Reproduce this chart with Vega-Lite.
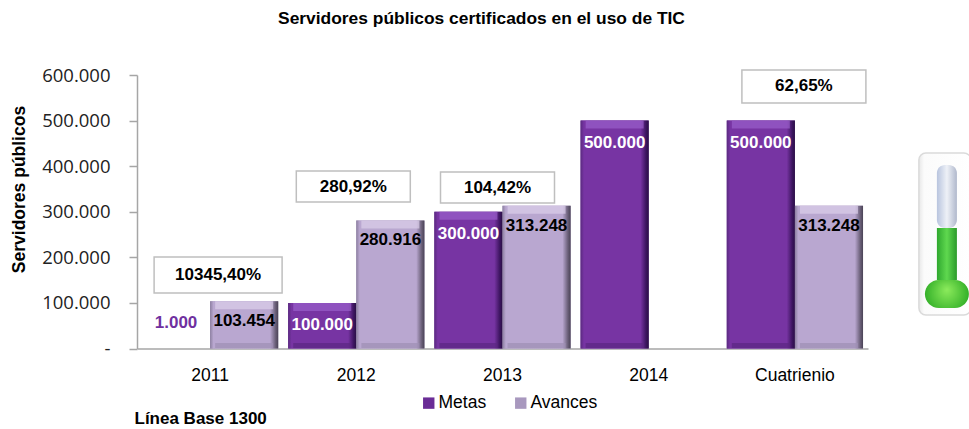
{"$schema":"https://vega.github.io/schema/vega-lite/v6.json","width":731,"height":273.5,"autosize":{"type":"none"},"padding":{"left":137,"top":75,"right":101,"bottom":80.5},"background":"white",
"title":{"text":"Servidores públicos certificados en el uso de TIC","font":"Liberation Sans","fontWeight":"bold","fontSize":17.4,"color":"#000","anchor":"middle","frame":"group","dx":-21,"offset":39},
"config":{"view":{"stroke":null}},
"datasets":{"bars":[
{"anio":"2011","serie":"Metas","valor":1000,"etiqueta":"1.000"},
{"anio":"2011","serie":"Avances","valor":103454,"etiqueta":"103.454"},
{"anio":"2012","serie":"Metas","valor":100000,"etiqueta":"100.000"},
{"anio":"2012","serie":"Avances","valor":280916,"etiqueta":"280.916"},
{"anio":"2013","serie":"Metas","valor":300000,"etiqueta":"300.000"},
{"anio":"2013","serie":"Avances","valor":313248,"etiqueta":"313.248"},
{"anio":"2014","serie":"Metas","valor":500000,"etiqueta":"500.000"},
{"anio":"Cuatrienio","serie":"Metas","valor":500000,"etiqueta":"500.000"},
{"anio":"Cuatrienio","serie":"Avances","valor":313248,"etiqueta":"313.248"}],
"boxes":[
{"anio":"2011","pct":"10345,40%","lo":121800,"hi":200700,"mid":161000},
{"anio":"2012","pct":"280,92%","lo":321400,"hi":389400,"mid":354000},
{"anio":"2013","pct":"104,42%","lo":319000,"hi":387000,"mid":352000},
{"anio":"Cuatrienio","pct":"62,65%","lo":538600,"hi":611000,"mid":576000}]},
"data":{"name":"bars"},
"encoding":{"x":{"field":"anio","type":"nominal","sort":["2011","2012","2013","2014","Cuatrienio"],"scale":{"domain":["2011","2012","2013","2014","Cuatrienio"],"paddingInner":0.068,"paddingOuter":0.034},
"axis":{"title":"Línea Base 1300","titleFont":"Liberation Sans","titleFontSize":17,"titleFontWeight":"bold","titleColor":"#000","titleX":-3,"titleY":70,"titleAlign":"left","titleBaseline":"middle","labelAngle":0,"labelFont":"Liberation Sans","labelFontSize":17.5,"labelColor":"#000","labelPadding":18,"tickSize":0,"domainColor":"#A6A6A6","domainWidth":1.5}},
"y":{"type":"quantitative","scale":{"domain":[0,600000],"nice":false}}},
"layer":[
{"mark":{"type":"bar","opacity":1},"encoding":{"y":{"field":"valor","type":"quantitative","axis":{"title":"Servidores públicos","titleFont":"Liberation Sans","titleFontSize":17.5,"titleFontWeight":"bold","titleColor":"#000","titleX":-109,"titleY":114,"values":[0,100000,200000,300000,400000,500000,600000],"labelExpr":"datum.value==0?'-\u00a0\u00a0\u00a0':replace(format(datum.value,','),',','.')","labelFont":"Open Sans","labelFontSize":18.5,"labelColor":"#222","labelPadding":19,"tickSize":8,"tickColor":"#A6A6A6","tickWidth":1.5,"domainColor":"#A6A6A6","domainWidth":1.5,"grid":false}},
"xOffset":{"field":"serie","type":"nominal","sort":["Metas","Avances"],"scale":{"domain":["Metas","Avances"]}},
"fillOpacity":{"condition":{"test":"datum.valor<=1000","value":0},"value":1},
"color":{"field":"serie","type":"nominal","scale":{"domain":["Metas","Avances"],"range":["#6A2C96","#A898BE"]},"legend":{"title":null,"orient":"none","legendX":283,"legendY":319,"direction":"horizontal","symbolType":"square","symbolSize":130,"symbolStrokeWidth":0,"symbolOpacity":1,"labelFont":"Liberation Sans","labelFontSize":17.5,"labelColor":"#000","labelOffset":1,"columnPadding":25}}}},
{"transform":[{"filter":"datum.serie=='Metas' && datum.valor>1000"}],"mark":{"type":"bar","fill":{"gradient":"linear","x1":0,"x2":1,"y1":0,"y2":0,"stops":[{"offset":0,"color":"#5A2A80"},{"offset":0.05,"color":"#7734A3"},{"offset":0.88,"color":"#7734A3"},{"offset":0.96,"color":"#3D1560"},{"offset":1,"color":"#2A1045"}]}},"encoding":{"y":{"field":"valor","type":"quantitative"},"xOffset":{"field":"serie","type":"nominal","sort":["Metas","Avances"]}}},
{"transform":[{"filter":"datum.serie=='Avances'"}],"mark":{"type":"bar","fill":{"gradient":"linear","x1":0,"x2":1,"y1":0,"y2":0,"stops":[{"offset":0,"color":"#8C7FA0"},{"offset":0.05,"color":"#B9A7D0"},{"offset":0.88,"color":"#B9A7D0"},{"offset":0.96,"color":"#6A5F78"},{"offset":1,"color":"#4A4356"}]}},"encoding":{"y":{"field":"valor","type":"quantitative"},"xOffset":{"field":"serie","type":"nominal","sort":["Metas","Avances"]}}},
{"transform":[{"filter":"datum.serie=='Metas' && datum.valor>1000"}],"mark":{"type":"tick","size":58,"thickness":8,"yOffset":4,"fill":"#9A5FCB","color":"#9A5FCB"},"encoding":{"y":{"field":"valor","type":"quantitative"},"xOffset":{"field":"serie","type":"nominal","sort":["Metas","Avances"]}}},
{"transform":[{"filter":"datum.serie=='Avances'"}],"mark":{"type":"tick","size":58,"thickness":8,"yOffset":4,"fill":"#DCCFEA","color":"#DCCFEA"},"encoding":{"y":{"field":"valor","type":"quantitative"},"xOffset":{"field":"serie","type":"nominal","sort":["Metas","Avances"]}}},
{"transform":[{"filter":"datum.serie=='Metas' && datum.valor>1000"}],"mark":{"type":"tick","size":58,"thickness":5,"yOffset":-3,"color":"#5B2782"},"encoding":{"y":{"datum":0},"xOffset":{"field":"serie","type":"nominal","sort":["Metas","Avances"]}}},
{"transform":[{"filter":"datum.serie=='Avances'"}],"mark":{"type":"tick","size":58,"thickness":5,"yOffset":-3,"color":"#9E8FB3"},"encoding":{"y":{"datum":0},"xOffset":{"field":"serie","type":"nominal","sort":["Metas","Avances"]}}},
{"transform":[{"filter":"datum.serie=='Metas' && datum.valor>1000"}],"mark":{"type":"text","font":"Liberation Sans","fontWeight":"bold","fontSize":17,"color":"white","yOffset":22},"encoding":{"y":{"field":"valor","type":"quantitative"},"text":{"field":"etiqueta"},"xOffset":{"field":"serie","type":"nominal","sort":["Metas","Avances"]}}},
{"transform":[{"filter":"datum.serie=='Metas' && datum.valor==1000"}],"mark":{"type":"text","font":"Liberation Sans","fontWeight":"bold","fontSize":17,"color":"#7030A0","yOffset":-25,"xOffset":-8},"encoding":{"y":{"field":"valor","type":"quantitative"},"text":{"field":"etiqueta"},"xOffset":{"field":"serie","type":"nominal","sort":["Metas","Avances"]}}},
{"transform":[{"filter":"datum.serie=='Avances'"}],"mark":{"type":"text","font":"Liberation Sans","fontWeight":"bold","fontSize":17,"color":"black","yOffset":20},"encoding":{"y":{"field":"valor","type":"quantitative"},"text":{"field":"etiqueta"},"xOffset":{"field":"serie","type":"nominal","sort":["Metas","Avances"]}}},
{"data":{"name":"boxes"},"transform":[{"filter":"datum.anio=='2011'"}],"mark":{"type":"bar","width":128,"xOffset":8,"fill":"white","stroke":"#BFBFBF","strokeWidth":1.5},"encoding":{"y":{"field":"lo","type":"quantitative"},"y2":{"field":"hi"}}},
{"data":{"name":"boxes"},"transform":[{"filter":"datum.anio=='2012'"}],"mark":{"type":"bar","width":114,"xOffset":-3,"fill":"white","stroke":"#BFBFBF","strokeWidth":1.5},"encoding":{"y":{"field":"lo","type":"quantitative"},"y2":{"field":"hi"}}},
{"data":{"name":"boxes"},"transform":[{"filter":"datum.anio=='2013'"}],"mark":{"type":"bar","width":114,"xOffset":-5,"fill":"white","stroke":"#BFBFBF","strokeWidth":1.5},"encoding":{"y":{"field":"lo","type":"quantitative"},"y2":{"field":"hi"}}},
{"data":{"name":"boxes"},"transform":[{"filter":"datum.anio=='Cuatrienio'"}],"mark":{"type":"bar","width":124,"xOffset":9,"fill":"white","stroke":"#BFBFBF","strokeWidth":1.5},"encoding":{"y":{"field":"lo","type":"quantitative"},"y2":{"field":"hi"}}},
{"data":{"name":"boxes"},"transform":[{"filter":"datum.anio=='2011'"}],"mark":{"type":"text","xOffset":8,"font":"Liberation Sans","fontWeight":"bold","fontSize":17,"color":"black"},"encoding":{"y":{"field":"mid","type":"quantitative"},"text":{"field":"pct"}}},
{"data":{"name":"boxes"},"transform":[{"filter":"datum.anio=='2012'"}],"mark":{"type":"text","xOffset":-3,"font":"Liberation Sans","fontWeight":"bold","fontSize":17,"color":"black"},"encoding":{"y":{"field":"mid","type":"quantitative"},"text":{"field":"pct"}}},
{"data":{"name":"boxes"},"transform":[{"filter":"datum.anio=='2013'"}],"mark":{"type":"text","xOffset":-5,"font":"Liberation Sans","fontWeight":"bold","fontSize":17,"color":"black"},"encoding":{"y":{"field":"mid","type":"quantitative"},"text":{"field":"pct"}}},
{"data":{"name":"boxes"},"transform":[{"filter":"datum.anio=='Cuatrienio'"}],"mark":{"type":"text","xOffset":9,"font":"Liberation Sans","fontWeight":"bold","fontSize":17,"color":"black"},"encoding":{"y":{"field":"mid","type":"quantitative"},"text":{"field":"pct"}}},
{"data":{"values":[{"anio":"Cuatrienio","a":73500,"b":428900,"c":402600,"d":264400,"e":150300,"f":88800}]},"mark":{"type":"bar","width":52,"xOffset":150,"cornerRadius":7,"fill":{"gradient":"linear","x1":0,"x2":1,"y1":0,"y2":0,"stops":[{"offset":0,"color":"#E8E8E8"},{"offset":0.1,"color":"#FBFBFB"},{"offset":1,"color":"#FFFFFF"}]},"stroke":"#DADADA","strokeWidth":1.5},"encoding":{"y":{"field":"a","type":"quantitative"},"y2":{"field":"b"}}},
{"data":{"values":[{"anio":"Cuatrienio","a":73500,"b":428900,"c":402600,"d":264400,"e":150300,"f":88800}]},"mark":{"type":"bar","width":20,"xOffset":152,"cornerRadius":8,"fill":{"gradient":"linear","x1":0,"x2":1,"y1":0,"y2":0,"stops":[{"offset":0,"color":"#B8C4DE"},{"offset":0.5,"color":"#EEF1F7"},{"offset":1,"color":"#B0B8CC"}]}},"encoding":{"y":{"field":"d","type":"quantitative"},"y2":{"field":"c"}}},
{"data":{"values":[{"anio":"Cuatrienio","a":73500,"b":428900,"c":402600,"d":264400,"e":150300,"f":88800}]},"mark":{"type":"bar","width":20,"xOffset":152,"fill":{"gradient":"linear","x1":0,"x2":1,"y1":0,"y2":0,"stops":[{"offset":0,"color":"#2FA82F"},{"offset":0.5,"color":"#5FD84F"},{"offset":1,"color":"#2B9A2B"}]}},"encoding":{"y":{"field":"e","type":"quantitative"},"y2":{"field":"d"}}},
{"data":{"values":[{"anio":"Cuatrienio","a":73500,"b":428900,"c":402600,"d":264400,"e":150300,"f":88800}]},"mark":{"type":"bar","width":44,"xOffset":152,"cornerRadius":14,"fill":{"gradient":"radial","x1":0.5,"y1":0.4,"x2":0.5,"y2":0.5,"r1":0,"r2":0.6,"stops":[{"offset":0,"color":"#8CEB5C"},{"offset":1,"color":"#23A51F"}]}},"encoding":{"y":{"field":"f","type":"quantitative"},"y2":{"field":"e"}}}
]}
